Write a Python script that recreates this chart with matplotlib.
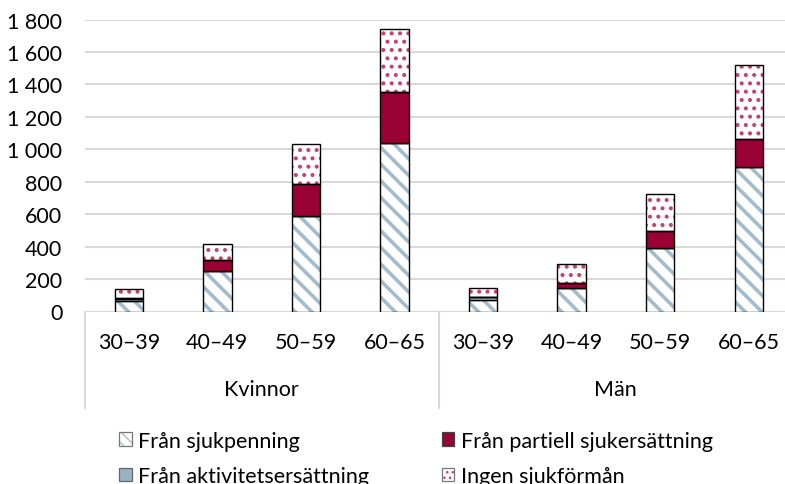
import matplotlib
matplotlib.use("Agg")
import matplotlib.pyplot as plt
from matplotlib.patches import Patch
from matplotlib.legend_handler import HandlerTuple
from matplotlib.ticker import FuncFormatter
import numpy as np

plt.rcParams['font.family'] = ['Lato', 'DejaVu Sans']

groups = ["Kvinnor", "Män"]
ages = ["30–39", "40–49", "50–59", "60–65"]
series_names = ["Från sjukpenning", "Från aktivitetsersättning",
                "Från partiell sjukersättning", "Ingen sjukförmån"]

sjukpenning = [65, 250, 586, 1041, 71, 146, 391, 893]
aktivitet = [12, 0, 0, 0, 18, 0, 0, 0]
partiell = [4, 68, 199, 312, 3, 27, 106, 173]
ingen = [59, 97, 248, 390, 50, 117, 230, 455]

yticks = [0, 200, 400, 600, 800, 1000, 1200, 1400, 1600, 1800]

W, H = 785, 485
FS = 15.5
fig = plt.figure(figsize=(W / 100, H / 100), dpi=100)
ax = fig.add_axes([84.5 / W, 1 - 312.5 / H, (793 - 84.5) / W, 292 / H])

x = np.arange(len(sjukpenning))
bw = 0.32
blue_hatch = "#A3BCCB"
blue_solid = "#97B2C4"
red = "#990033"
dot = "#C8416A"


def set_hlw(items, lw):
    for patch in items:
        try:
            patch.set_hatch_linewidth(lw)
        except AttributeError:
            pass


s = np.array(sjukpenning, float)
a = np.array(aktivitet, float)
p = np.array(partiell, float)
n = np.array(ingen, float)

b1 = ax.bar(x, s, bw, color="white", edgecolor=blue_hatch, hatch="\\\\", linewidth=0, zorder=2)
set_hlw(b1, 2.6)
ax.bar(x, s, bw, color="none", edgecolor="black", linewidth=1.0, zorder=3)
ax.bar(x, a, bw, bottom=s, color=blue_solid, edgecolor="black", linewidth=1.0, zorder=3)
ax.bar(x, p, bw, bottom=s + a, color=red, edgecolor="black", linewidth=1.0, zorder=3)
b4 = ax.bar(x, n, bw, bottom=s + a + p, color="white", edgecolor=dot, hatch="..", linewidth=0, zorder=2)
set_hlw(b4, 1.7)
ax.bar(x, n, bw, bottom=s + a + p, color="none", edgecolor="black", linewidth=1.0, zorder=3)

ax.set_xlim(-0.5, len(x) - 0.5)
ax.set_ylim(0, 1800)
ax.set_yticks(yticks)
ax.yaxis.set_major_formatter(FuncFormatter(lambda v, _: f"{int(v):,}".replace(",", " ")))
ax.grid(axis="y", color="#D9D9D9", linewidth=1.5, zorder=0)
ax.set_axisbelow(True)
for sp in ax.spines.values():
    sp.set_visible(False)
ax.tick_params(axis="y", length=0, labelsize=FS, pad=16, colors="black")
ax.tick_params(axis="x", length=0, labelsize=FS, pad=15)
ax.set_xticks(x)
ax.set_xticklabels(ages * len(groups))

ax.axhline(0, color="#D9D9D9", linewidth=1.5, zorder=1)
depth = -0.33
for xv in [0, 0.5, 1.0]:
    ax.plot([xv, xv], [0, depth], transform=ax.transAxes, color="#D9D9D9",
            linewidth=1.5, clip_on=False)
for i, g in enumerate(groups):
    ax.text(0.25 + 0.5 * i, -0.264, g, transform=ax.transAxes, ha="center",
            va="center", fontsize=FS)

h_sjuk_fill = Patch(facecolor="white", edgecolor=blue_hatch, hatch="\\\\\\", linewidth=0)
h_ingen_fill = Patch(facecolor="white", edgecolor=dot, hatch="...", linewidth=0)
set_hlw([h_sjuk_fill], 2.0)
set_hlw([h_ingen_fill], 1.5)
border = dict(facecolor="none", edgecolor="#777777", linewidth=0.9)
handles = [
    (h_sjuk_fill, Patch(**border)),
    Patch(facecolor=blue_solid, edgecolor="#666666", linewidth=0.9),
    Patch(facecolor=red, edgecolor="#444444", linewidth=0.9),
    (h_ingen_fill, Patch(**border)),
]
leg = fig.legend(handles, series_names, loc="upper left", ncol=2,
                 bbox_to_anchor=(110 / W, 1 - 423 / H), frameon=False, fontsize=FS,
                 handlelength=0.6, handleheight=0.6, handletextpad=0.3,
                 columnspacing=3.37, labelspacing=0.72, borderaxespad=0,
                 handler_map={tuple: HandlerTuple(ndivide=1, pad=0)})

fig.savefig("out.png", dpi=100)
